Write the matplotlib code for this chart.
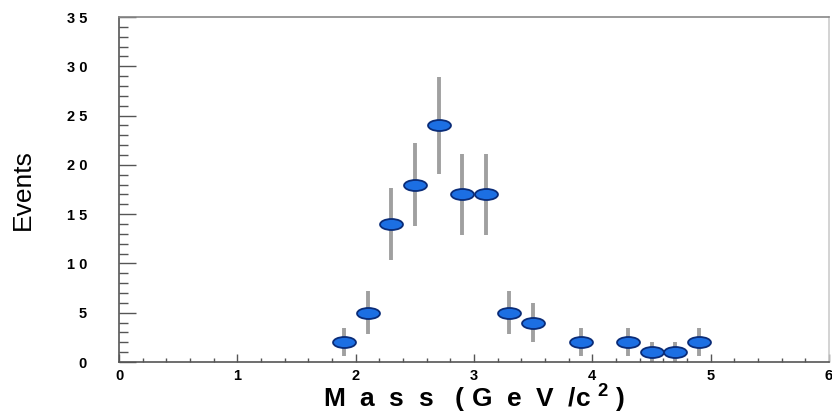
import numpy as np
import matplotlib
matplotlib.use('Agg')
import matplotlib.pyplot as plt
from matplotlib.path import Path
from matplotlib.ticker import MultipleLocator

# Dữ liệu
mass = [1.9, 2.1, 2.3, 2.5, 2.7, 2.9, 3.1, 3.3, 3.5, 3.9, 4.3, 4.5, 4.7, 4.9]
events = [2, 5, 14, 18, 24, 17, 17, 5, 4, 2, 2, 1, 1, 2]
errors = [1.4, 2.2, 3.7, 4.2, 4.9, 4.1, 4.1, 2.2, 2.0, 1.4, 1.4, 1.0, 1.0, 1.4]

x_ticks = [0, 1, 2, 3, 4, 5, 6]
y_ticks = [0, 5, 10, 15, 20, 25, 30, 35]
y_ticklabels = ['0', '5', '1 0', '1 5', '2 0', '2 5', '3 0', '3 5']

plt.rcParams['font.family'] = ['Liberation Sans', 'DejaVu Sans']
plt.rcParams['mathtext.fontset'] = 'custom'
plt.rcParams['mathtext.bf'] = 'Liberation Sans:bold'
plt.rcParams['mathtext.rm'] = 'Liberation Sans'

# Marker hình elip
circle = Path.unit_circle()
ellipse = Path(circle.vertices * np.array([1.0, 0.48]), circle.codes)

fig = plt.figure(figsize=(8.32, 4.15), dpi=100)
ax = fig.add_axes([119 / 832, 1 - 362 / 415, 710 / 832, 345 / 415])

ax.errorbar(mass, events, yerr=errors, fmt='none', ecolor='#a0a0a0',
            elinewidth=2.8, capsize=0, zorder=2)
ax.plot(mass, events, linestyle='none', marker=ellipse, markersize=16.5,
        markerfacecolor='#1c6fe3', markeredgecolor='#0a2c78',
        markeredgewidth=1.3, zorder=3)

ax.set_xlim(0, 6)
ax.set_ylim(0, 35)
ax.set_xticks(x_ticks)
ax.set_xticklabels([str(t) for t in x_ticks], fontsize=10.5, fontweight='bold')
ax.set_yticks(y_ticks)
ax.set_yticklabels(y_ticklabels, fontsize=10.5, fontweight='bold')
ax.xaxis.set_minor_locator(MultipleLocator(0.2))
ax.yaxis.set_minor_locator(MultipleLocator(1))

ax.tick_params(axis='x', which='major', direction='in', length=5.5, width=1, color='#555555', pad=5)
ax.tick_params(axis='x', which='minor', direction='in', length=3, width=1, color='#555555')
ax.tick_params(axis='y', which='major', direction='in', length=12, width=1, color='#555555', pad=23)
ax.tick_params(axis='y', which='minor', direction='in', length=6.5, width=1, color='#555555')

ax.spines['left'].set_color('#555555')
ax.spines['bottom'].set_color('#555555')
ax.spines['top'].set_color('#888888')
ax.spines['right'].set_color('#cccccc')
for s in ax.spines.values():
    s.set_linewidth(1.2)

ax.set_xlabel(r'M  a  s  s   ( G  e  V  /c $^{\mathbf{2}}$ )', fontsize=19, fontweight='bold')
ax.xaxis.label.set_verticalalignment('baseline')
ax.xaxis.set_label_coords(0.5, -0.13)
ax.set_ylabel('Events', fontsize=19)
ax.yaxis.set_label_coords(-0.118, 0.5)

fig.savefig('out.png', dpi=100)
